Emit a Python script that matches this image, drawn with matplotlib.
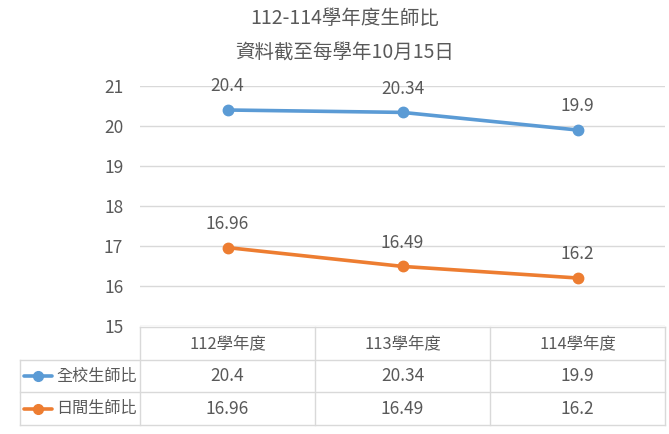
import numpy as np
import matplotlib.pyplot as plt
from matplotlib.lines import Line2D

plt.rcParams['font.family'] = ['Noto Sans CJK TC', 'DejaVu Sans']

# 資料
categories = ['112學年度', '113學年度', '114學年度']
series_names = ['全校生師比', '日間生師比']
all_ratio = [20.4, 20.34, 19.9]
day_ratio = [16.96, 16.49, 16.2]
y_ticks = [15, 16, 17, 18, 19, 20, 21]
title1 = '112-114學年度生師比'
title2 = '資料截至每學年10月15日'

colors = ['#5B9BD5', '#ED7D31']
txt = '#595959'
grid = '#D9D9D9'

W, H = 669, 434
fig = plt.figure(figsize=(W / 100, H / 100), dpi=100)

# 圖區 (像素)
left, right, top, bottom = 140, 665, 86, 326
ax = fig.add_axes([left / W, 1 - bottom / H, (right - left) / W, (bottom - top) / H])
x = np.arange(len(categories))
ax.set_xlim(-0.5, len(categories) - 0.5)
ax.set_ylim(15, 21)
ax.set_yticks(y_ticks)
ax.set_xticks([])
for s in ax.spines.values():
    s.set_visible(False)
ax.tick_params(axis='y', length=0, pad=12, labelcolor=txt, labelsize=12.5)
ax.grid(axis='y', color=grid, linewidth=1)
ax.set_axisbelow(True)

for vals, c in zip([all_ratio, day_ratio], colors):
    ax.plot(x, vals, color=c, linewidth=2.6, marker='o', markersize=7.5,
            solid_capstyle='round', clip_on=False)
    for xi, v in zip(x, vals):
        ax.annotate(f'{v:g}', (xi, v), xytext=(0, 17), textcoords='offset points',
                    ha='center', va='center', fontsize=12.5, color=txt)

fig.text(345 / W, 1 - 19 / H, title1, ha='center', va='center', fontsize=14, color=txt)
fig.text(345 / W, 1 - 53 / H, title2, ha='center', va='center', fontsize=14, color=txt)

# 資料表
tab = fig.add_axes([0, 0, 1, 1])
tab.set_xlim(0, W)
tab.set_ylim(H, 0)
tab.axis('off')
tab.patch.set_alpha(0)

col_edges = [left + i * (right - left) / len(categories) for i in range(len(categories) + 1)]
row_edges = [327, 360, 392, 425]
tleft = 20
lw = 1
# 橫線
tab.plot([left, right], [row_edges[0]] * 2, color=grid, lw=lw)
for r in row_edges[1:]:
    tab.plot([tleft, right], [r, r], color=grid, lw=lw)
# 直線
for cx in col_edges:
    tab.plot([cx, cx], [row_edges[0], row_edges[-1]], color=grid, lw=lw)
tab.plot([tleft, tleft], [row_edges[1], row_edges[-1]], color=grid, lw=lw)

for i, cat in enumerate(categories):
    cx = (col_edges[i] + col_edges[i + 1]) / 2
    tab.text(cx, (row_edges[0] + row_edges[1]) / 2, cat, ha='center', va='center',
             fontsize=11.8, color=txt)

for r, (name, vals, c) in enumerate(zip(series_names, [all_ratio, day_ratio], colors)):
    cy = (row_edges[r + 1] + row_edges[r + 2]) / 2
    tab.add_line(Line2D([24, 52], [cy, cy], color=c, lw=2.6, solid_capstyle='round'))
    tab.plot([38], [cy], marker='o', markersize=7, color=c)
    tab.text(56, cy, name, ha='left', va='center', fontsize=11.6, color=txt)
    for i, v in enumerate(vals):
        cx = (col_edges[i] + col_edges[i + 1]) / 2
        tab.text(cx, cy, f'{v:g}', ha='center', va='center', fontsize=12.5, color=txt)

fig.savefig('out.png', dpi=100, facecolor='white')
